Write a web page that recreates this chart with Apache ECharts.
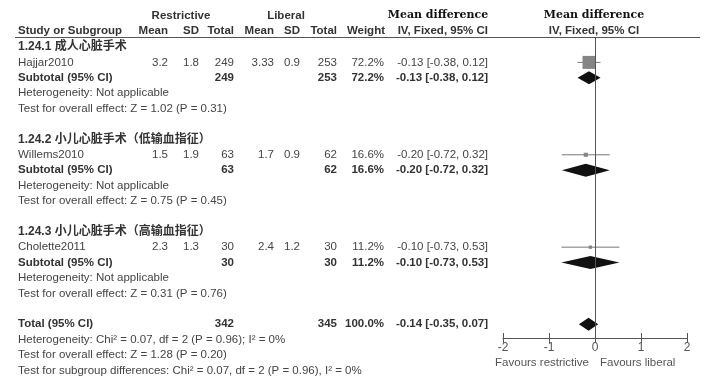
<!DOCTYPE html>
<html><head><meta charset="utf-8">
<script src="https://cdn.jsdelivr.net/npm/echarts@6/dist/echarts.min.js"></script>
<style>html,body{margin:0;padding:0;background:#fff}#c{width:711px;height:388px}</style>
</head><body><div id="c"></div>
<script>
// ---- data ----
const subgroupNames = ['1.24.1 成人心脏手术', '1.24.2 小儿心脏手术（低输血指征）', '1.24.3 小儿心脏手术（高输血指征）'];
const studies = ['Hajjar2010', 'Willems2010', 'Cholette2011'];
const restrMean = ['3.2', '1.5', '2.3'];
const restrSD = ['1.8', '1.9', '1.3'];
const restrN = [249, 63, 30];
const libMean = ['3.33', '1.7', '2.4'];
const libSD = ['0.9', '0.9', '1.2'];
const libN = [253, 62, 30];
const weights = [72.2, 16.6, 11.2];
const md = [-0.13, -0.20, -0.10];
const ciLow = [-0.38, -0.72, -0.73];
const ciHigh = [0.12, 0.32, 0.53];
const subHeterogeneity = ['Heterogeneity: Not applicable', 'Heterogeneity: Not applicable', 'Heterogeneity: Not applicable'];
const subOverall = ['Test for overall effect: Z = 1.02 (P = 0.31)', 'Test for overall effect: Z = 0.75 (P = 0.45)', 'Test for overall effect: Z = 0.31 (P = 0.76)'];
const totalN = [342, 345];
const totalWeight = 100.0;
const totalMD = [-0.14, -0.35, 0.07];
const totalNotes = ['Heterogeneity: Chi² = 0.07, df = 2 (P = 0.96); I² = 0%', 'Test for overall effect: Z = 1.28 (P = 0.20)', 'Test for subgroup differences: Chi² = 0.07, df = 2 (P = 0.96), I² = 0%'];
const xTicks = [-2, -1, 0, 1, 2];
const axisNotes = ['Favours restrictive', 'Favours liberal'];

// ---- layout (row slots) ----
const slotStudy = g => 6 * g + 1;
const slotSub = g => 6 * g + 2;
const slotTotal = 18;

const chart = echarts.init(document.getElementById('c'), null, {renderer: 'canvas'});

const studyData = studies.map((s, i) => [md[i], slotStudy(i), ciLow[i], ciHigh[i], weights[i]]);
const diamondData = studies.map((s, i) => [md[i], slotSub(i), ciLow[i], ciHigh[i]]);
diamondData.push([totalMD[0], slotTotal, totalMD[1], totalMD[2]]);

const maxW = Math.max(...weights);
const gridBox = {left: 503, right: 24, top: 37, bottom: 50, containLabel: false};

chart.setOption({
  animation: false,
  backgroundColor: '#fff',
  grid: [Object.assign({}, gridBox), Object.assign({}, gridBox)],
  xAxis: [{
    type: 'value', gridIndex: 0, min: xTicks[0], max: xTicks[xTicks.length - 1], interval: 1,
    position: 'bottom',
    axisLine: {show: true, onZero: false, lineStyle: {color: '#555', width: 1}},
    axisTick: {show: true, length: 5, lineStyle: {color: '#555'}},
    axisLabel: {margin: 4, color: '#555', fontSize: 12, fontFamily: '"Liberation Sans", Arial, sans-serif'},
    splitLine: {show: false}
  }, {
    type: 'value', gridIndex: 1, min: xTicks[0], max: xTicks[xTicks.length - 1], interval: 1,
    position: 'bottom',
    axisLine: {show: false, onZero: false},
    axisTick: {show: true, inside: true, length: 5, lineStyle: {color: '#555'}},
    axisLabel: {show: false},
    splitLine: {show: false}
  }],
  yAxis: [
    {type: 'value', gridIndex: 0, inverse: true, min: -0.65, max: 18.9, show: false},
    {type: 'value', gridIndex: 1, inverse: true, min: -0.65, max: 18.9, show: false}
  ],
  series: [{
    type: 'custom',
    xAxisIndex: 0, yAxisIndex: 0,
    data: studyData,
    renderItem: function (params, api) {
      const y = api.value(1);
      const pLo = api.coord([api.value(2), y]);
      const pHi = api.coord([api.value(3), y]);
      const pM = api.coord([api.value(0), y]);
      const sz = 1.5 + 11.5 * api.value(4) / maxW;
      return {
        type: 'group',
        children: [{
          type: 'line',
          shape: {x1: pLo[0], y1: pLo[1], x2: pHi[0], y2: pHi[1]},
          style: {stroke: '#777', lineWidth: 1}
        }, {
          type: 'rect',
          shape: {x: pM[0] - sz / 2, y: pM[1] - sz / 2, width: sz, height: sz},
          style: {fill: '#858585'}
        }]
      };
    }
  }, {
    type: 'custom',
    xAxisIndex: 0, yAxisIndex: 0,
    data: diamondData,
    renderItem: function (params, api) {
      const y = api.value(1);
      const pLo = api.coord([api.value(2), y]);
      const pHi = api.coord([api.value(3), y]);
      const pM = api.coord([api.value(0), y]);
      const h = 6.5;
      return {
        type: 'polygon',
        shape: {points: [[pLo[0], pM[1]], [pM[0], pM[1] - h], [pHi[0], pM[1]], [pM[0], pM[1] + h]]},
        style: {fill: '#111'}
      };
    },
    markLine: {
      silent: true, symbol: ['none', 'none'], label: {show: false},
      lineStyle: {color: '#555', width: 1, type: 'solid'},
      data: [{xAxis: 0}]
    }
  }]
});

// ---- table text ----
const Y = s => chart.convertToPixel({yAxisIndex: 0}, s);
const FN = '"Liberation Sans", Arial, "Noto Sans CJK SC", sans-serif';
const normalFont = '11.5px ' + FN;
const boldFont = 'bold 11.5px ' + FN;
const groupFont = 'bold 12px ' + FN;
const serifFont = 'bold 11px "DejaVu Serif", serif';
const cNorm = '#444', cBold = '#333';
const g = [];
function txt(text, x, y, align, font, color) {
  g.push({type: 'text', silent: true, style: {text: String(text), x: x, y: y, textAlign: align, textVerticalAlign: 'middle', font: font, fill: color}});
}
const colX = {name: 18, rMean: 168, rSD: 199, rN: 234, lMean: 274, lSD: 300, lN: 337, w: 384, ci: 488, plot: 594};

// headers
txt('Restrictive', 181, 16, 'center', boldFont, cBold);
txt('Liberal', 286, 16, 'center', boldFont, cBold);
txt('Mean difference', 438, 15, 'center', serifFont, '#111');
txt('Mean difference', colX.plot, 15, 'center', serifFont, '#111');
const hy = 31;
txt('Study or Subgroup', colX.name, hy, 'left', boldFont, cBold);
txt('Mean', colX.rMean, hy, 'right', boldFont, cBold);
txt('SD', colX.rSD, hy, 'right', boldFont, cBold);
txt('Total', colX.rN, hy, 'right', boldFont, cBold);
txt('Mean', colX.lMean, hy, 'right', boldFont, cBold);
txt('SD', colX.lSD, hy, 'right', boldFont, cBold);
txt('Total', colX.lN, hy, 'right', boldFont, cBold);
txt('Weight', colX.w + 1, hy, 'right', boldFont, cBold);
txt('IV, Fixed, 95% CI', colX.ci, hy, 'right', boldFont, cBold);
txt('IV, Fixed, 95% CI', colX.plot, hy, 'center', boldFont, cBold);
g.push({type: 'line', silent: true, shape: {x1: 15, y1: 37.5, x2: 700, y2: 37.5}, style: {stroke: '#555', lineWidth: 1}});

const ciText = (m, l, h) => m.toFixed(2) + ' [' + l.toFixed(2) + ', ' + h.toFixed(2) + ']';

subgroupNames.forEach((name, i) => {
  const b = 6 * i;
  txt(name, colX.name, Y(b), 'left', groupFont, cBold);
  const ys = Y(slotStudy(i));
  txt(studies[i], colX.name, ys, 'left', normalFont, cNorm);
  txt(restrMean[i], colX.rMean, ys, 'right', normalFont, cNorm);
  txt(restrSD[i], colX.rSD, ys, 'right', normalFont, cNorm);
  txt(restrN[i], colX.rN, ys, 'right', normalFont, cNorm);
  txt(libMean[i], colX.lMean, ys, 'right', normalFont, cNorm);
  txt(libSD[i], colX.lSD, ys, 'right', normalFont, cNorm);
  txt(libN[i], colX.lN, ys, 'right', normalFont, cNorm);
  txt(weights[i].toFixed(1) + '%', colX.w, ys, 'right', normalFont, cNorm);
  txt(ciText(md[i], ciLow[i], ciHigh[i]), colX.ci, ys, 'right', normalFont, cNorm);
  const yb = Y(slotSub(i));
  txt('Subtotal (95% CI)', colX.name, yb, 'left', boldFont, cBold);
  txt(restrN[i], colX.rN, yb, 'right', boldFont, cBold);
  txt(libN[i], colX.lN, yb, 'right', boldFont, cBold);
  txt(weights[i].toFixed(1) + '%', colX.w, yb, 'right', boldFont, cBold);
  txt(ciText(md[i], ciLow[i], ciHigh[i]), colX.ci, yb, 'right', boldFont, cBold);
  txt(subHeterogeneity[i], colX.name, Y(b + 3), 'left', normalFont, cNorm);
  txt(subOverall[i], colX.name, Y(b + 4), 'left', normalFont, cNorm);
});
const yt = Y(slotTotal);
txt('Total (95% CI)', colX.name, yt, 'left', boldFont, cBold);
txt(totalN[0], colX.rN, yt, 'right', boldFont, cBold);
txt(totalN[1], colX.lN, yt, 'right', boldFont, cBold);
txt(totalWeight.toFixed(1) + '%', colX.w, yt, 'right', boldFont, cBold);
txt(ciText(totalMD[0], totalMD[1], totalMD[2]), colX.ci, yt, 'right', boldFont, cBold);
totalNotes.forEach((t, k) => txt(t, colX.name, Y(slotTotal + 1 + k), 'left', normalFont, cNorm));

// axis notes
txt(axisNotes[0], 589, 363, 'right', normalFont, '#555');
txt(axisNotes[1], 600, 363, 'left', normalFont, '#555');

chart.setOption({graphic: g});
</script>
</body></html>
